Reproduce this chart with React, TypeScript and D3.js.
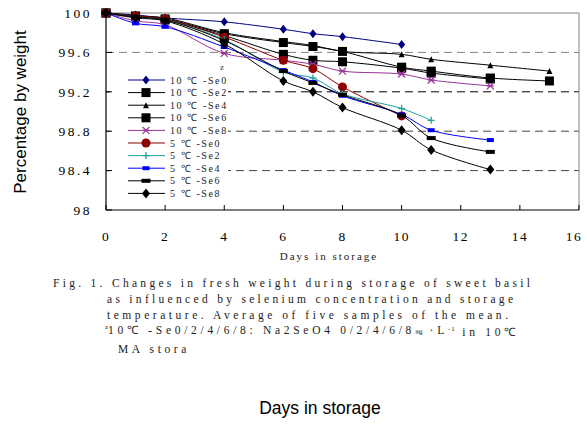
import React from "react";
import * as d3 from "d3";

const days = [0, 1, 2, 4, 6, 7, 8, 10, 11, 13, 15];

const seriesNames = [
  "10 ℃ -Se0", "10 ℃ -Se2", "10 ℃ -Se4", "10 ℃ -Se6", "10 ℃ -Se8",
  "5 ℃ -Se0", "5 ℃ -Se2", "5 ℃ -Se4", "5 ℃ -Se6", "5 ℃ -Se8",
];

const s10Se0 = [100, 99.98, 99.95, 99.91, 99.835, 99.79, 99.76, 99.68, null, null, null];
const s10Se2 = [100, 99.96, 99.94, 99.79, 99.70, 99.66, 99.61, 99.45, 99.41, 99.34, 99.31];
const s10Se4 = [100, 99.97, 99.95, 99.80, 99.71, 99.67, 99.61, 99.58, 99.53, 99.47, 99.41];
const s10Se6 = [100, 99.97, 99.93, 99.77, 99.58, 99.52, 99.505, 99.44, 99.39, 99.33, null];
const s10Se8 = [100, 99.92, 99.88, 99.59, 99.52, 99.48, 99.41, 99.38, 99.32, 99.26, null];
const s5Se0 = [100, 99.97, 99.94, 99.755, 99.52, 99.435, 99.25, 98.955, null, null, null];
const s5Se2 = [100, 99.96, 99.93, 99.73, 99.40, 99.34, 99.18, 99.03, 98.91, null, null];
const s5Se4 = [100, 99.895, 99.86, 99.655, 99.42, 99.30, 99.16, 98.97, 98.81, 98.71, null];
const s5Se6 = [100, 99.96, 99.93, 99.72, 99.41, 99.29, 99.17, 98.96, 98.73, 98.59, null];
const s5Se8 = [100, 99.95, 99.92, 99.685, 99.31, 99.20, 99.04, 98.81, 98.61, 98.41, null];

const seriesValues = [s10Se0, s10Se2, s10Se4, s10Se6, s10Se8, s5Se0, s5Se2, s5Se4, s5Se6, s5Se8];

const xTicks = [0, 2, 4, 6, 8, 10, 12, 14, 16];
const yTicks = [98, 98.4, 98.8, 99.2, 99.6, 100];
const yTickLabels = ["98", "98.4", "98.8", "99.2", "99.6", "100"];

const captionLines = [
  "Fig. 1. Changes in fresh weight during storage of sweet basil",
  "as influenced by selenium concentration and storage",
  "temperature. Average of five samples of the mean.",
];

type Style = { color: string; marker: string; size: number };
const styles: Style[] = [
  { color: "#000080", marker: "diamond", size: 7 },
  { color: "#000000", marker: "square", size: 9 },
  { color: "#000000", marker: "triangle", size: 6 },
  { color: "#000000", marker: "square", size: 9 },
  { color: "#993399", marker: "star", size: 7 },
  { color: "#8B0000", marker: "circle", size: 9 },
  { color: "#20A0A0", marker: "plus", size: 7 },
  { color: "#0000FF", marker: "dash", size: 7 },
  { color: "#000000", marker: "dashw", size: 9 },
  { color: "#000000", marker: "diamond", size: 8 },
];

function Marker({ x, y, st }: { x: number; y: number; st: Style }) {
  const s = st.size;
  const h = s / 2;
  switch (st.marker) {
    case "diamond":
      return <path d={`M${x},${y - h - 1}L${x + h},${y}L${x},${y + h + 1}L${x - h},${y}Z`} fill={st.color} />;
    case "square":
      return <rect x={x - h} y={y - h} width={s} height={s} fill={st.color} />;
    case "triangle":
      return <path d={`M${x},${y - h}L${x + h},${y + h}L${x - h},${y + h}Z`} fill={st.color} />;
    case "circle":
      return <circle cx={x} cy={y} r={h} fill={st.color} />;
    case "plus":
      return (
        <g stroke={st.color} strokeWidth={1.3}>
          <line x1={x - h} x2={x + h} y1={y} y2={y} />
          <line x1={x} x2={x} y1={y - h} y2={y + h} />
        </g>
      );
    case "star":
      return (
        <g stroke={st.color} strokeWidth={1.3}>
          <line x1={x - h} x2={x + h} y1={y} y2={y} />
          <line x1={x - h} x2={x + h} y1={y - h} y2={y + h} />
          <line x1={x - h} x2={x + h} y1={y + h} y2={y - h} />
        </g>
      );
    case "dash":
      return <rect x={x - h} y={y - 2} width={s} height={4} fill={st.color} />;
    case "dashw":
      return <rect x={x - h} y={y - 2} width={s} height={4} fill={st.color} />;
  }
  return null;
}

export default function App() {
  const W = 587, H = 424;
  const x = d3.scaleLinear().domain([0, 16]).range([106, 579]);
  const y = d3.scaleLinear().domain([98, 100]).range([210, 13]);
  const line = d3
    .line<[number, number]>()
    .x((d) => x(d[0]))
    .y((d) => y(d[1]))
    .curve(d3.curveCatmullRom.alpha(0.5));

  const serif = "'Liberation Serif', 'Times New Roman', serif";
  const sans = "'Liberation Sans', Arial, sans-serif";

  const legendX = 128, legendY0 = 80, legendStep = 12.6;

  return (
    <svg width={W} height={H} style={{ position: "absolute", left: 0, top: 0, background: "#fff" }}>
      <rect width={W} height={H} fill="#fff" />
      {/* gridlines */}
      {yTicks.filter((t) => t > 98 && t < 100).map((t) => (
        <line key={t} x1={x(0)} x2={x(16)} y1={y(t)} y2={y(t)}
          stroke={t === 99.6 ? "#808080" : t === 99.2 ? "#000" : "#444"} strokeWidth={1} strokeDasharray="8,5" />
      ))}
      {/* frame */}
      <line x1={x(0)} x2={x(16)} y1={y(100)} y2={y(100)} stroke="#808080" />
      <line x1={x(16)} x2={x(16)} y1={y(100)} y2={y(98)} stroke="#808080" />
      {/* legend background */}
      <rect x={110} y={60} width={118} height={144} fill="#fff" />
      {/* axes */}
      <line x1={x(0)} x2={x(16)} y1={y(98)} y2={y(98)} stroke="#000" strokeWidth={1.2} />
      <line x1={x(0)} x2={x(0)} y1={y(100)} y2={y(98)} stroke="#000" strokeWidth={1.2} />
      {yTicks.map((t) => (
        <line key={t} x1={x(0)} x2={x(0) + 6} y1={y(t)} y2={y(t)} stroke="#000" />
      ))}
      {xTicks.map((t) => (
        <line key={t} x1={x(t)} x2={x(t)} y1={y(98)} y2={y(98) - 5} stroke="#000" />
      ))}
      {yTicks.map((t, i) => (
        <text key={t} x={92} y={y(t)} dy="0.35em" textAnchor="end" fontFamily={serif} fontSize={13.5} letterSpacing={2.5} fill="#000">
          {yTickLabels[i]}
        </text>
      ))}
      {xTicks.map((t) => (
        <text key={t} x={Math.min(x(t), 574)} y={236} dy="0.35em" textAnchor="middle" fontFamily={serif} fontSize={13.5} letterSpacing={1.5} fill="#000">
          {t}
        </text>
      ))}
      {/* series */}
      {seriesValues.map((vals, i) => {
        const pts = days.map((d, j) => [d, vals[j]] as [number, number | null])
          .filter((p) => p[1] !== null) as [number, number][];
        return (
          <g key={i}>
            <path d={line(pts) || ""} fill="none" stroke={styles[i].color} strokeWidth={1} />
            {pts.map((p, j) => (
              <Marker key={j} x={x(p[0])} y={y(p[1])} st={styles[i]} />
            ))}
          </g>
        );
      })}
      {/* legend */}
      <text x={220} y={70} fontFamily={serif} fontSize={9} fill="#333">z</text>
      {seriesNames.map((n, i) => {
        const ly = legendY0 + i * legendStep;
        return (
          <g key={n}>
            <line x1={legendX} x2={legendX + 37} y1={ly} y2={ly} stroke={styles[i].color} strokeWidth={1} />
            <Marker x={legendX + 18} y={ly} st={styles[i]} />
            <text x={legendX + 42} y={ly} dy="0.35em" fontFamily={serif} fontSize={10} letterSpacing={1.6} fill="#222">{n}</text>
          </g>
        );
      })}
      {/* axis title */}
      <text x={329} y={256} dy="0.35em" textAnchor="middle" fontFamily={serif} fontSize={11} letterSpacing={2} fill="#222">
        Days in storage
      </text>
      {/* caption */}
      <text x={53} y={283} dy="0.35em" fontFamily={serif} fontSize={11.5} textLength={477} lengthAdjust="spacing" fill="#222">
        {captionLines[0]}
      </text>
      <text x={107} y={299} dy="0.35em" fontFamily={serif} fontSize={11.5} textLength={406} lengthAdjust="spacing" fill="#222">
        {captionLines[1]}
      </text>
      <text x={107} y={315} dy="0.35em" fontFamily={serif} fontSize={11.5} textLength={401} lengthAdjust="spacing" fill="#222">
        {captionLines[2]}
      </text>
      <text x={105} y={332} dy="0.35em" fontFamily={serif} fontSize={11.5} fill="#222">
        <tspan fontSize={7} dy="-0.45em">z</tspan>
        <tspan dy="0.45em" letterSpacing={3.7}>10℃ -Se0/2/4/6/8: Na2SeO4 0/2/4/6/8</tspan>
        <tspan fontSize={8}>㎎</tspan>
        <tspan letterSpacing={3.7}> ·L</tspan>
        <tspan fontSize={7} dy="-0.45em" letterSpacing={1}>-1</tspan>
        <tspan dy="0.45em" letterSpacing={3.7}> in 10℃</tspan>
      </text>
      <text x={118} y={349} dy="0.35em" fontFamily={serif} fontSize={11.5} letterSpacing={3.6} fill="#222">
        MA stora
      </text>
      {/* big labels */}
      <text x={320} y={414} textAnchor="middle" fontFamily={sans} fontSize={17.5} fill="#000">
        Days in storage
      </text>
      <text transform="translate(26,112) rotate(-90)" textAnchor="middle" fontFamily={sans} fontSize={17} fill="#000">
        Percentage by weight
      </text>
    </svg>
  );
}
